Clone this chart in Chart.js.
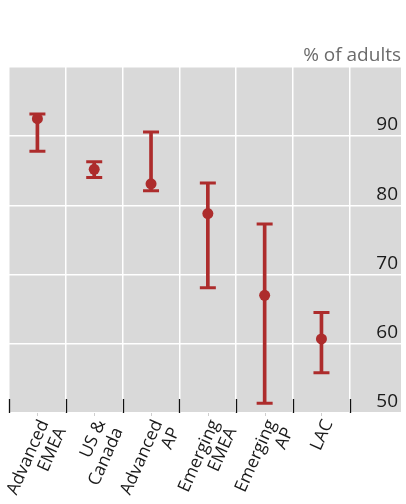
<!DOCTYPE html>
<html>
<head>
<meta charset="utf-8">
<script src="https://cdn.jsdelivr.net/npm/chart.js@4/dist/chart.umd.min.js"></script>
<style>
  html, body { margin: 0; padding: 0; background: #fff; overflow: hidden; }
  #wrap { width: 406px; height: 504px; position: relative; }
</style>
</head>
<body>
<div id="wrap"><canvas id="chart"></canvas></div>
<script>
// Regions (two-line labels), share of adults: average with lowest / highest country
const regions = [['Advanced', 'EMEA'], ['US &', 'Canada'], ['Advanced', 'AP'], ['Emerging', 'EMEA'], ['Emerging', 'AP'], ['LAC']];
const average = [92.5, 85.2, 83.1, 78.8, 67.0, 60.7];
const lowest  = [87.8, 84.0, 82.1, 68.1, 51.4, 55.8];
const highest = [93.2, 86.3, 90.6, 83.2, 77.3, 64.5];
const yTickLabels = [50, 60, 70, 80, 90];
const unitLabel = '% of adults';

const RED = '#ad2c2c';
const FONT = 'Open Sans';

// Grey plot panel behind everything
const panel = {
  id: 'panel',
  beforeDraw(chart) {
    const { ctx, chartArea: a } = chart;
    ctx.save();
    ctx.fillStyle = '#d9d9d9';
    ctx.fillRect(a.left, a.top, a.right - a.left, a.bottom - a.top);
    ctx.restore();
  }
};

// Short black separators rising from the baseline between regions,
// plus faint marks just under each region
const baseTicks = {
  id: 'baseTicks',
  beforeDatasetsDraw(chart) {
    const { ctx, chartArea: a, scales: { x } } = chart;
    ctx.save();
    ctx.strokeStyle = '#111';
    ctx.lineWidth = 1.3;
    for (let i = 0; i <= regions.length; i++) {
      const px = Math.round(x.getPixelForValue(i - 0.5)) + 0.5;
      ctx.beginPath();
      ctx.moveTo(px, a.bottom);
      ctx.lineTo(px, a.bottom - 14);
      ctx.stroke();
    }
    ctx.strokeStyle = '#cfcfcf';
    ctx.lineWidth = 1;
    for (let i = 0; i < regions.length; i++) {
      const px = Math.round(x.getPixelForValue(i)) + 0.5;
      ctx.beginPath();
      ctx.moveTo(px, a.bottom);
      ctx.lineTo(px, a.bottom + 3);
      ctx.stroke();
    }
    ctx.restore();
  }
};

const dots = average.map((v, i) => ({ x: i, y: v }));
const caps = lowest.flatMap((lo, i) => [{ x: i, y: lo }, { x: i, y: highest[i] }]);
const ranges = lowest.map((lo, i) => ({ x: i, y: [lo, highest[i]] }));

new Chart(document.getElementById('chart'), {
  type: 'scatter',
  data: {
    datasets: [
      { type: 'scatter', data: dots, pointRadius: 5.5, pointHoverRadius: 5.5,
        backgroundColor: RED, borderWidth: 0, order: 0 },
      { type: 'scatter', data: caps, pointStyle: 'line', pointRadius: 8, pointHoverRadius: 8,
        borderColor: RED, borderWidth: 3, order: 1 },
      { type: 'bar', data: ranges, barThickness: 3, backgroundColor: RED,
        borderWidth: 0, order: 2 }
    ]
  },
  options: {
    responsive: true,
    maintainAspectRatio: false,
    animation: false,
    events: [],
    layout: { autoPadding: false, padding: { left: 9, right: 5, top: 0, bottom: 0 } },
    plugins: {
      legend: { display: false },
      tooltip: { enabled: false },
      title: {
        display: true,
        text: unitLabel,
        align: 'end',
        color: '#6b6b6b',
        font: { family: FONT, size: 19, weight: 'normal' },
        padding: { top: 44, bottom: 0 }
      }
    },
    scales: {
      x: {
        type: 'linear',
        min: -0.5,
        max: 6.4,
        offset: false,
        afterBuildTicks(s) {
          s.ticks = regions.map((_, i) => ({ value: i })).concat([{ value: regions.length }]);
        },
        afterFit(s) { s.height = 91; s.paddingLeft = 0; s.paddingRight = 0; },
        grid: { offset: true, color: '#ffffff', lineWidth: 1.5, drawTicks: false },
        border: { display: false },
        ticks: {
          autoSkip: false,
          minRotation: 66,
          maxRotation: 66,
          padding: 4,
          labelOffset: 7,
          color: '#1a1a1a',
          font: { family: FONT, size: 17.5, lineHeight: 1.08 },
          callback: (v) => regions[v] || ''
        }
      },
      y: {
        type: 'linear',
        position: 'right',
        min: 50,
        max: 100,
        beginAtZero: false,
        afterFit(s) { s.width = 0; s.paddingTop = 0; s.paddingBottom = 0; },
        grid: { color: '#ffffff', lineWidth: 1.5, drawTicks: false },
        border: { display: false },
        ticks: {
          stepSize: 10,
          mirror: true,
          padding: -3,
          labelOffset: -11,
          color: '#1a1a1a',
          font: { family: FONT, size: 19 },
          callback: (v) => (yTickLabels.includes(v) ? String(v) : '')
        }
      }
    }
  },
  plugins: [panel, baseTicks]
});
</script>
</body>
</html>
